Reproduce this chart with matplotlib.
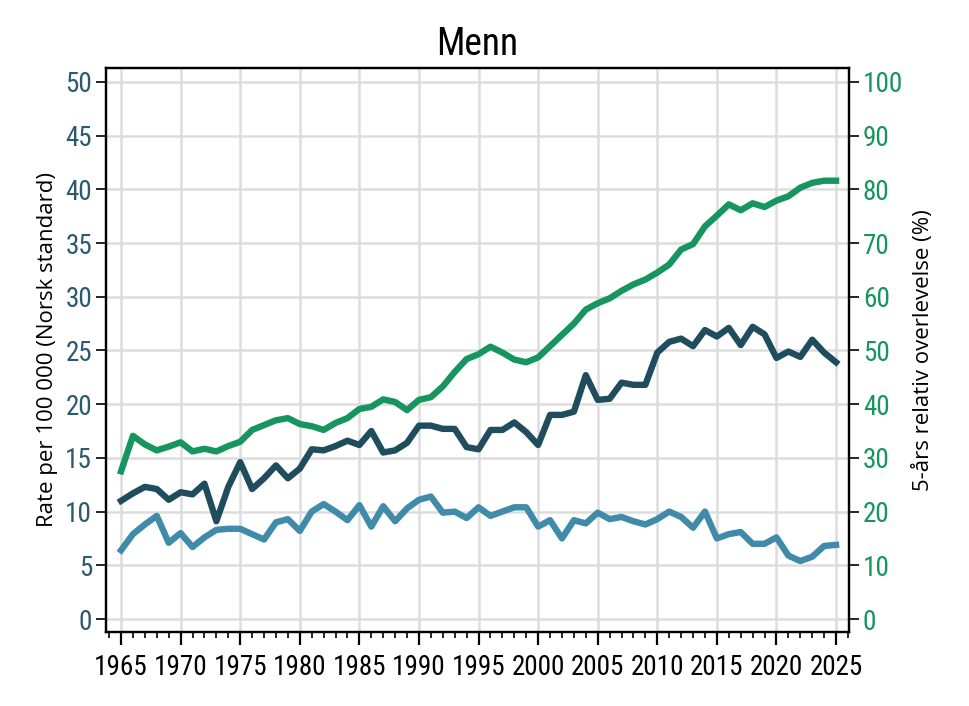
import os
import numpy as np
import matplotlib
matplotlib.use("Agg")
import matplotlib.pyplot as plt
from matplotlib import font_manager as fm
from matplotlib.ticker import MultipleLocator

years = np.arange(1965, 2026)

# Incidence (left axis, rate per 100 000)
incidence = [
    11.0, 11.7, 12.3, 12.1, 11.1, 11.8, 11.6, 12.6, 9.1, 12.3,
    14.6, 12.1, 13.1, 14.3, 13.1, 14.0, 15.8, 15.7, 16.1, 16.6,
    16.2, 17.5, 15.5, 15.7, 16.4, 18.0, 18.0, 17.7, 17.7, 16.0,
    15.8, 17.6, 17.6, 18.3, 17.4, 16.2, 19.0, 19.0, 19.3, 22.7,
    20.4, 20.5, 22.0, 21.8, 21.8, 24.8, 25.8, 26.1, 25.4, 26.9,
    26.3, 27.1, 25.5, 27.2, 26.5, 24.3, 24.9, 24.4, 26.0, 24.8,
    23.9,
]

# Mortality (left axis, rate per 100 000)
mortality = [
    6.4, 7.9, 8.8, 9.6, 7.1, 8.0, 6.7, 7.6, 8.3, 8.4,
    8.4, 7.9, 7.4, 9.0, 9.3, 8.2, 10.0, 10.7, 10.0, 9.2,
    10.6, 8.6, 10.5, 9.1, 10.3, 11.1, 11.4, 9.9, 10.0, 9.4,
    10.4, 9.6, 10.0, 10.4, 10.4, 8.6, 9.2, 7.5, 9.2, 8.9,
    9.9, 9.3, 9.5, 9.1, 8.8, 9.3, 10.0, 9.5, 8.5, 10.0,
    7.5, 7.9, 8.1, 7.0, 7.0, 7.6, 5.9, 5.4, 5.8, 6.8,
    6.9,
]

# 5-year relative survival (right axis, %)
survival = [
    27.5, 34.1, 32.5, 31.4, 32.1, 32.9, 31.2, 31.7, 31.2, 32.2,
    33.0, 35.2, 36.1, 37.0, 37.4, 36.3, 35.9, 35.2, 36.5, 37.4,
    39.1, 39.5, 40.9, 40.4, 38.9, 40.8, 41.3, 43.3, 46.0, 48.4,
    49.3, 50.7, 49.6, 48.3, 47.8, 48.7, 50.8, 52.9, 55.0, 57.6,
    58.8, 59.7, 61.1, 62.3, 63.2, 64.5, 66.0, 68.8, 69.8, 73.1,
    75.1, 77.2, 76.1, 77.4, 76.7, 77.9, 78.7, 80.3, 81.2, 81.6,
    81.6,
]

c_inc = '#1f4d5e'
c_mort = '#3f8ba9'
c_surv = '#17955e'
c_left_ticks = '#2b5a70'


def pick_narrow_font():
    # look for a condensed/narrow regular face among installed fonts
    files = [f.fname for f in fm.fontManager.ttflist]
    bad = ('Bold', 'Italic', 'Oblique', 'Light', 'Thin', 'Medium', 'Black',
           'Semi', 'Extra', 'Ultra', 'Display', 'Mono')
    prefs = [('LiberationSansNarrow-Regular', 19.5, 27),
             ('NotoSans-Condensed', 19.5, 27),
             ('RobotoCondensed-Regular', 19.5, 27),
             ('OpenSans_Condensed-Regular', 18, 25),
             ('DejaVuSansCondensed', 16, 22)]
    for key, tick_size, title_size in prefs:
        for fn in files:
            base = os.path.basename(fn)
            if base.startswith(key):
                rest = base[len(key):]
                if any(b in rest for b in bad):
                    continue
                return fm.FontProperties(fname=fn), tick_size, title_size
    return fm.FontProperties(family='DejaVu Sans'), 12.5, 21


tick_fp, tick_size, title_size = pick_narrow_font()
label_family = ['Open Sans', 'DejaVu Sans']

fig = plt.figure(figsize=(9.7, 7.06), dpi=100)
ax = fig.add_axes([0.1093, 0.1048, 0.766, 0.799])
ax2 = ax.twinx()

ax.plot(years, incidence, color=c_inc, lw=4.6, zorder=3)
ax.plot(years, mortality, color=c_mort, lw=4.6, zorder=3)
ax2.plot(years, survival, color=c_surv, lw=4.6, zorder=3)

ax.set_xlim(1963.74, 2026.09)
ax.set_ylim(-1.21, 51.3)
ax2.set_ylim(-2.42, 102.6)

ax.xaxis.set_major_locator(MultipleLocator(5))
ax.xaxis.set_minor_locator(MultipleLocator(1))
ax.yaxis.set_major_locator(MultipleLocator(5))
ax2.yaxis.set_major_locator(MultipleLocator(10))

ax.grid(True, which='major', color='#dddddd', lw=1.8)
ax.set_axisbelow(True)

for a in (ax, ax2):
    for s in a.spines.values():
        s.set_linewidth(1.6)
        s.set_color('black')

ax.tick_params(axis='x', which='major', length=9, width=1.6, pad=7, colors='black')
ax.tick_params(axis='x', which='minor', length=4, width=1.2)
ax.tick_params(axis='y', length=7, width=1.2, labelcolor=c_left_ticks, pad=3)
ax2.tick_params(axis='y', length=7, width=1.2, labelcolor=c_surv, pad=3)

for lab in ax.get_xticklabels() + ax.get_yticklabels() + ax2.get_yticklabels():
    lab.set_fontproperties(tick_fp)
    lab.set_fontsize(tick_size)

ax.set_ylabel('Rate per 100 000 (Norsk standard)', family=label_family,
              fontsize=16, labelpad=5)
ax2.set_ylabel('5-års relativ overlevelse (%)', family=label_family,
               fontsize=16, labelpad=7)
title_fp = tick_fp.copy()
title_fp.set_size(title_size)
ax.set_title('Menn', fontproperties=title_fp, pad=9)

fig.savefig('out.png', dpi=100)
